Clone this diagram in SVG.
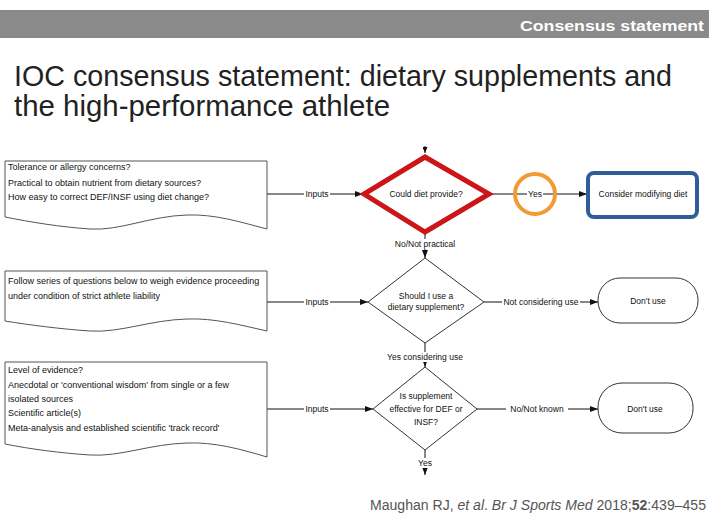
<svg xmlns="http://www.w3.org/2000/svg" width="709" height="518" viewBox="0 0 709 518">
<defs>
<style>
.t{font-family:"Liberation Sans",Arial,sans-serif;font-size:8.5px;fill:#111}
.d{font-size:9px}
.c{text-anchor:middle}
.doc{fill:#fff;stroke:#555;stroke-width:1}
.ln{fill:none;stroke:#111;stroke-width:1}
.dia{fill:#fff;stroke:#333;stroke-width:1}
.lbl{fill:#fff}
</style>
<marker id="ah" viewBox="0 0 8 6" refX="8" refY="3" markerWidth="8" markerHeight="6" markerUnits="userSpaceOnUse" orient="auto">
<path d="M0,0 L8,3 L0,6 z" fill="#111"/>
</marker>
<marker id="ahs" viewBox="0 0 6 5" refX="6" refY="2.5" markerWidth="6" markerHeight="5" markerUnits="userSpaceOnUse" orient="auto">
<path d="M0,0 L6,2.5 L0,5 z" fill="#111"/>
</marker>
</defs>
<rect width="709" height="518" fill="#fff"/>
<g id="header">
<rect x="0" y="10" width="709" height="28" fill="#8a8a8a"/>
<text x="704" y="31" text-anchor="end" font-family="Liberation Sans,Arial,sans-serif" font-size="15" font-weight="bold" fill="#fff" textLength="184" lengthAdjust="spacingAndGlyphs">Consensus statement</text>
</g>
<g id="title" font-family="Liberation Sans,Arial,sans-serif" font-size="30" fill="#222">
<text x="14" y="86" textLength="658" lengthAdjust="spacingAndGlyphs">IOC consensus statement: dietary supplements and</text>
<text x="14" y="116" textLength="376" lengthAdjust="spacingAndGlyphs">the high-performance athlete</text>
</g>
<g id="connectors">
<line class="ln" x1="267" y1="194" x2="363" y2="194" marker-end="url(#ah)"/>
<rect class="lbl" x="304" y="189" width="26" height="10"/>
<text class="t c" x="317" y="197">Inputs</text>
<line class="ln" x1="425" y1="146" x2="425" y2="153" marker-end="url(#ahs)"/>
<line class="ln" x1="490" y1="194" x2="587" y2="194" marker-end="url(#ah)"/>
<line class="ln" x1="425" y1="233" x2="425" y2="258" marker-end="url(#ah)"/>
<rect class="lbl" x="392" y="239" width="66" height="10"/>
<text class="t c" x="425" y="247">No/Not practical</text>
<line class="ln" x1="267" y1="302" x2="368" y2="302" marker-end="url(#ah)"/>
<rect class="lbl" x="304" y="297" width="26" height="10"/>
<text class="t c" x="317" y="305">Inputs</text>
<line class="ln" x1="484" y1="302" x2="598" y2="302" marker-end="url(#ah)"/>
<rect class="lbl" x="502" y="297" width="78" height="10"/>
<text class="t c" x="541" y="305">Not considering use</text>
<line class="ln" x1="425" y1="343" x2="425" y2="367" marker-end="url(#ah)"/>
<rect class="lbl" x="384" y="352" width="82" height="10"/>
<text class="t c" x="425" y="360">Yes considering use</text>
<line class="ln" x1="267" y1="409" x2="373" y2="409" marker-end="url(#ah)"/>
<rect class="lbl" x="304" y="404" width="26" height="10"/>
<text class="t c" x="317" y="412">Inputs</text>
<line class="ln" x1="477" y1="409" x2="598" y2="409" marker-end="url(#ah)"/>
<rect class="lbl" x="506" y="404" width="62" height="10"/>
<text class="t c" x="537" y="412">No/Not known</text>
<line class="ln" x1="425" y1="450" x2="425" y2="475" marker-end="url(#ah)"/>
<rect class="lbl" x="416" y="458" width="18" height="10"/>
<text class="t c" x="425" y="466">Yes</text>
</g>
<g id="doc1">
<path class="doc" d="M5,161 H267 V229 C240,222 215,214 187,215 C150,216 120,231 90,229 C60,227 30,222 5,217 Z"/>
<text class="t d" x="8" y="170">Tolerance or allergy concerns?</text>
<text class="t d" x="8" y="186">Practical to obtain nutrient from dietary sources?</text>
<text class="t d" x="8" y="200">How easy to correct DEF/INSF using diet change?</text>
</g>
<g id="doc2">
<path class="doc" d="M5,271 H267 V331 C240,325 215,318 187,319 C150,320 120,333 90,331 C60,329 30,325 5,321 Z"/>
<text class="t d" x="8" y="284">Follow series of questions below to weigh evidence proceeding</text>
<text class="t d" x="8" y="299">under condition of strict athlete liability</text>
</g>
<g id="doc3">
<path class="doc" d="M5,362 H267 V457 C240,449 215,442 187,443 C150,444 120,457 90,455 C60,453 30,449 5,444 Z"/>
<text class="t d" x="8" y="373">Level of evidence?</text>
<text class="t d" x="8" y="388">Anecdotal or 'conventional wisdom' from single or a few</text>
<text class="t d" x="8" y="402">isolated sources</text>
<text class="t d" x="8" y="416">Scientific article(s)</text>
<text class="t d" x="8" y="431">Meta-analysis and established scientific 'track record'</text>
</g>
<g id="d1">
<path d="M425,157 L489,194 L425,232 L364,194 Z" fill="#fff" stroke="#cc1518" stroke-width="5" stroke-linejoin="miter"/>
<text class="t c" x="426" y="197">Could diet provide?</text>
</g>
<g id="yes1">
<circle cx="535" cy="194" r="20" fill="none" stroke="#f29a35" stroke-width="4"/>
<rect class="lbl" x="527" y="189" width="16" height="10"/>
<text class="t c" x="535" y="197">Yes</text>
</g>
<g id="modify">
<rect x="588" y="173" width="109" height="44" rx="6" fill="#fff" stroke="#2f5d98" stroke-width="4"/>
<text class="t c" x="643" y="197">Consider modifying diet</text>
</g>
<g id="d2">
<path class="dia" d="M425,258 L484,302 L425,343 L368,302 Z"/>
<text class="t c" x="426" y="299">Should I use a</text>
<text class="t c" x="426" y="310">dietary supplement?</text>
</g>
<g id="dont1">
<rect class="dia" x="598" y="278" width="100" height="45" rx="22"/>
<text class="t c" x="648" y="304">Don't use</text>
</g>
<g id="d3">
<path class="dia" d="M425,367 L477,409 L425,450 L373,409 Z"/>
<text class="t c" x="426" y="399">Is supplement</text>
<text class="t c" x="426" y="412">effective for DEF or</text>
<text class="t c" x="426" y="425">INSF?</text>
</g>
<g id="dont2">
<rect class="dia" x="598" y="383" width="95" height="50" rx="24"/>
<text class="t c" x="645" y="412">Don't use</text>
</g>
<g id="footer">
<text x="370" y="510" font-family="Liberation Sans,Arial,sans-serif" font-size="14" fill="#555" textLength="336" lengthAdjust="spacingAndGlyphs">Maughan RJ, <tspan font-style="italic">et al</tspan>. <tspan font-style="italic">Br J Sports Med</tspan> 2018;<tspan font-weight="bold">52</tspan>:439–455</text>
</g>
</svg>
